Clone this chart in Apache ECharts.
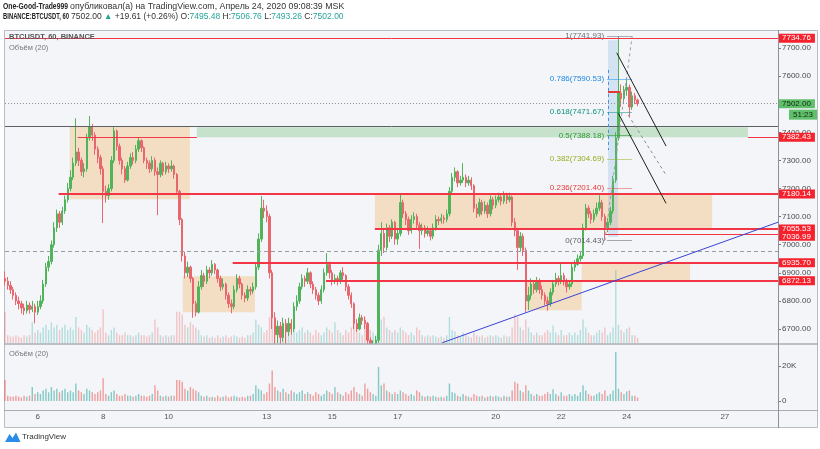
<!DOCTYPE html>
<html><head><meta charset="utf-8">
<script src="https://cdn.jsdelivr.net/npm/echarts@6/dist/echarts.min.js"></script>
<style>html,body{margin:0;padding:0;background:#fff;}#c{width:820px;height:449px;}</style>
</head><body><div id="c"></div>
<script>
// ---- time axis: hours relative to Apr 6 00:00 (MSK), 2-hour candles from Apr 5 00:00
const startHour = -24;
const stepHours = 2;
const firstOpen = 6880;
const closes = [
 6870,6855,6840,6820,6800,6790,6775,6765,6785,6770,6780,6760,
 6780,6800,6860,6920,6940,7000,7060,7110,7080,7120,7160,7200,
 7240,7290,7330,7300,7260,7270,7380,7420,7390,7340,7310,7270,
 7190,7175,7200,7300,7405,7350,7300,7270,7230,7280,7310,7300,
 7340,7370,7345,7300,7290,7270,7300,7260,7250,7290,7260,7280,
 7270,7280,7250,7190,7090,6960,6900,6920,6880,6790,6760,6850,
 6890,6870,6910,6900,6930,6910,6880,6850,6860,6820,6790,6780,
 6840,6880,6860,6820,6810,6840,6835,6850,6920,7020,7130,7120,
 7100,6900,6740,6680,6710,6670,6720,6690,6720,6700,6780,6800,
 6850,6880,6870,6900,6860,6840,6820,6800,6840,6900,6930,6900,
 6870,6880,6870,6900,6890,6850,6820,6790,6720,6700,6740,6730,
 6720,6660,6630,6640,6660,6980,7040,6990,7060,7030,7080,7020,
 7040,7150,7110,7090,7050,7090,7100,7070,7050,7060,7040,7050,
 7030,7060,7090,7085,7095,7090,7110,7190,7240,7260,7220,7230,
 7240,7220,7230,7210,7130,7110,7150,7120,7140,7110,7160,7140,
 7160,7170,7155,7175,7160,7170,7080,7050,6990,7030,6980,6800,
 6820,6860,6840,6870,6840,6820,6800,6790,6830,6860,6880,6870,
 6890,6870,6850,6860,6920,6930,6950,6960,7060,7130,7110,7090,
 7110,7130,7150,7100,7060,7080,7120,7230,7380,7540,7520,7550,
 7560,7490,7530,7515,7502
];
const highs = [
 6905,6885,6870,6850,6830,6815,6800,6790,6800,6795,6800,6790,
 6800,6820,6875,6935,6960,7015,7080,7125,7120,7135,7175,7220,
 7265,7310,7450,7345,7310,7290,7395,7458,7430,7400,7350,7320,
 7280,7210,7215,7315,7418,7410,7360,7310,7280,7295,7325,7330,
 7355,7380,7375,7350,7310,7300,7315,7310,7275,7300,7295,7295,
 7290,7300,7285,7255,7195,7095,6975,6940,6925,6885,6800,6870,
 6910,6900,6925,6920,6945,6935,6915,6890,6880,6865,6830,6805,
 6855,6895,6890,6865,6830,6855,6850,6865,6935,7040,7173,7160,
 7140,7110,6910,6760,6730,6725,6740,6735,6740,6735,6795,6820,
 6865,6895,6890,6917,6905,6870,6850,6830,6855,6915,6970,6940,
 6910,6895,6890,6910,6920,6895,6860,6830,6795,6735,6755,6750,
 6745,6725,6670,6660,6675,7000,7080,7060,7075,7070,7090,7085,
 7060,7184,7160,7120,7100,7105,7115,7110,7080,7075,7070,7065,
 7060,7075,7105,7100,7110,7105,7125,7205,7255,7275,7265,7245,
 7290,7250,7245,7240,7215,7145,7165,7160,7155,7150,7175,7170,
 7175,7185,7180,7190,7185,7185,7175,7095,7060,7045,7040,6990,
 6850,6880,6870,6885,6880,6855,6830,6815,6845,6875,6900,6890,
 6935,6900,6880,6875,6935,6945,6965,6975,7075,7145,7140,7120,
 7125,7150,7176,7160,7110,7095,7135,7245,7400,7742,7570,7565,
 7593,7570,7545,7540,7520
];
const lows = [
 6855,6840,6825,6805,6785,6770,6755,6750,6755,6755,6760,6720,
 6750,6770,6790,6850,6905,6930,6990,7045,7060,7070,7110,7150,
 7190,7230,7280,7280,7245,7240,7260,7370,7370,7320,7290,7250,
 7077,7150,7160,7190,7290,7335,7285,7250,7220,7225,7270,7285,
 7290,7330,7330,7290,7270,7255,7260,7245,7105,7240,7245,7250,
 7255,7260,7235,7180,7070,6940,6880,6885,6865,6740,6745,6755,
 6840,6850,6860,6880,6890,6895,6865,6835,6840,6805,6775,6756,
 6770,6830,6845,6805,6795,6800,6820,6825,6840,6910,7010,7095,
 7080,6880,6700,6600,6650,6640,6655,6620,6675,6680,6690,6765,
 6790,6840,6850,6860,6845,6825,6805,6785,6790,6830,6890,6880,
 6855,6860,6855,6860,6875,6835,6805,6775,6700,6690,6695,6715,
 6700,6640,6610,6615,6625,6650,6960,6970,6980,7010,7020,7000,
 7000,7030,7095,7070,7035,7040,7075,7055,6985,7035,7025,7030,
 7015,7020,7050,7070,7075,7075,7080,7100,7180,7225,7205,7210,
 7220,7205,7210,7195,7115,7095,7100,7105,7110,7095,7100,7125,
 7130,7150,7140,7145,7145,7150,7065,7030,6910,6975,6960,6760,
 6767,6805,6825,6830,6825,6805,6785,6765,6780,6820,6850,6855,
 6860,6855,6830,6840,6850,6905,6925,6940,6950,7050,7095,7075,
 7080,7100,7120,7085,7014,7045,7070,7110,7220,7370,7490,7500,
 7530,7455,7480,7500,7493
];
const volumesK = [
 12,3,2.5,2.5,3,2.5,2,3,2.5,3,8,4,
 5,4,6,7,5,8,6,7,5,6,7,5,
 6,5,10,6,5,4,7,6,5,4,5,6,
 13,4,3,5,6,4,3,3,4,3,3,2.5,
 3,4,3,3,2.5,3,4,9,6,3,2.5,3,
 2.5,3,3,12,12,11,7,6,8,7,6,5,
 3,2.5,3,2,2.5,2,3,2,2.5,3,2,2.5,
 3,2.5,2,2.5,2,3,3,4,9,7,6,4,
 5,10,17.5,8,6,5,7,5,4,6,5,4,
 5,6,4,5,4,3,5,4,3,4,6,5,
 4,8,5,4,3,5,4,6,8,5,4,3,
 10,7,5,4,3,19.5,9,10,6,5,4,5,
 4,6,5,4,3,4,3,6,5,3,2.5,3,
 2.5,3,2.5,2,2.5,2,3,10,5,4.5,3,2.5,
 4,3,2.5,2,4,3,2.5,3,2,2.5,3,2.5,
 3,2.5,2,3,2.5,2.5,6,11,10,6,5,9,
 6,4,3,4,3,3,4,5,4,6.7,4,3,
 5,3,3,4,3,4,3,5,9,6,4,3,
 3,4,5,4,6,3,4,6,28,7,5,4,
 5.5,6,3,3,2
];
const dayTickLabels = [6,8,10,13,15,17,20,22,24,27];
const priceTicks = [6700,6800,6900,7000,7100,7200,7300,7400,7500,7600,7700];
const volumeTicksK = [0,20];

// drawing anchors (hour, price)
const fullLevels = { top: 7734.76, last: 7502.00, gray: 7420, dashed: 6977 };
const partialLevels = [ // [fromHour, price, label]
 [15.4, 7180.14, '7180.14'], [416, 7036.99, '7036.99'], [247.3, 7055.53, '7055.53'],
 [143, 6935.70, '6935.70'], [211.4, 6872.13, '6872.13'], [521, 7382.43, '7382.43']
];
const orangeBoxes = [ // [h1, h2, p1, p2]
 [23.5, 111.6, 7422, 7162], [106.4, 159.3, 6888, 6760], [247.3, 494.7, 7180.14, 7055.53],
 [399, 478.5, 6935.70, 6872.13], [357.4, 399, 6872.13, 6767]
];
const greenBox = [116.7, 521, 7418, 7382.43];
const blueBand = [418.3, 425.7, 7728, 7027];
const fibLevels = [ // [ratio, price, text colour, line colour]
 ['1', 7741.93, '#6f727c', 'rgba(120,123,134,0.6)'], ['0.786', 7590.53, '#1e88e5', 'rgba(33,150,243,0.55)'],
 ['0.618', 7471.67, '#10907f', 'rgba(20,153,138,0.55)'], ['0.5', 7388.18, '#2e9a35', 'rgba(62,160,67,0.65)'],
 ['0.382', 7304.69, '#93b021', 'rgba(156,184,50,0.55)'], ['0.236', 7201.40, '#e53935', 'rgba(236,74,74,0.5)'],
 ['0', 7014.43, '#5f626b', 'rgba(111,114,124,0.6)']
];
const fibSpan = [417.6, 436];
const trendLine = [[296.7, 6651], [543, 7080]];
const channelA = [[424.7, 7683], [460.9, 7351]];
const channelB = [[425.9, 7467.5], [460.9, 7147]];
const channelMid = [[433.2, 7461], [460.9, 7248]];
const fibDiagonal = [[416, 7014.43], [436, 7741.93]];
const redSegment = [[29.4, 7382.43], [116.7, 7382.43]];
const shortRed = [[418.3, 7543], [427.1, 7543]];
const blueDash = [[418.3, 7622], [418.3, 7337]];
const countdownText = '51:23';

const X_MIN = -24, X_MAX = 543;
const P_MIN = 6650.2, P_MAX = 7764.1;
const FONT = 'Liberation Sans, Arial, sans-serif';
const UP = '#52b45a', DOWN = '#e8666e';
const BG = '#f3f5f9';

const candles = [], volMain = [], volPane = [];
for (let i = 0; i < closes.length; i++) {
  const h = startHour + i * stepHours;
  const o = i === 0 ? firstOpen : closes[i - 1];
  const c = closes[i];
  candles.push([h, o, c, lows[i], highs[i]]);
  const isUp = c >= o;
  volMain.push({ value: [h, volumesK[i]], itemStyle: { color: isUp ? 'rgba(38,166,154,0.30)' : 'rgba(239,83,80,0.30)' } });
  volPane.push({ value: [h, volumesK[i]], itemStyle: { color: isUp ? 'rgba(38,166,154,0.55)' : 'rgba(239,83,80,0.55)' } });
}

function endLabel(txt, bg, fg, nudge) {
  return { show: true, position: 'end', formatter: txt, color: fg || '#fff', backgroundColor: bg,
    padding: [1, 4, 0, 3], lineHeight: 8, fontSize: 8, distance: 1, fontFamily: FONT, offset: [0, nudge || 0] };
}
const NOLABEL = { show: false };
const solid = (color, width) => ({ color, width, type: 'solid', opacity: 1 });

const lines = [];
lines.push({ yAxis: fullLevels.top, lineStyle: solid('#f23645', 1), label: endLabel('7734.76', '#f5222d') });
lines.push({ yAxis: fullLevels.gray, lineStyle: solid('#5d6066', 1), label: NOLABEL });
lines.push({ yAxis: fullLevels.dashed, lineStyle: { color: '#9a9ca3', width: 1, type: [4, 3] }, label: NOLABEL });
lines.push({ yAxis: fullLevels.last, lineStyle: { color: '#8f9399', width: 1, type: [1, 2] }, label: endLabel('7502.00', '#5fbf6a', '#102a10') });
partialLevels.forEach(([h, p, txt]) => {
  const w = (txt === '7036.99' || txt === '7382.43') ? 1 : 2;
  const nudge = txt === '7036.99' ? 2 : 0;
  lines.push([{ coord: [h, p], lineStyle: solid('#f23645', w), label: endLabel(txt, '#f5222d', '#fff', nudge) }, { coord: [X_MAX, p] }]);
});
lines.push([{ coord: redSegment[0], lineStyle: solid('#f23645', 1), label: NOLABEL }, { coord: redSegment[1] }]);
lines.push([{ coord: shortRed[0], lineStyle: solid('#e53935', 2), label: NOLABEL }, { coord: shortRed[1] }]);
lines.push([{ coord: blueDash[0], lineStyle: { color: '#4a90e2', width: 1, type: [3, 3] }, label: NOLABEL }, { coord: blueDash[1] }]);
fibLevels.forEach(([r, p, tcol, lcol]) => {
  lines.push([{ coord: [fibSpan[0], p], lineStyle: { color: lcol, width: 1, type: 'solid' },
    label: { show: true, position: 'start', formatter: r + '(' + p.toFixed(2) + ')', color: tcol, fontSize: 8, distance: 3, fontFamily: FONT } },
    { coord: [fibSpan[1], p] }]);
});
lines.push([{ coord: fibDiagonal[0], lineStyle: { color: '#9a9ca3', width: 1, type: [3, 3] }, label: NOLABEL }, { coord: fibDiagonal[1] }]);
lines.push([{ coord: trendLine[0], lineStyle: solid('#3a44d8', 1), label: NOLABEL }, { coord: trendLine[1] }]);
lines.push([{ coord: channelA[0], lineStyle: solid('#1f1f1f', 1), label: NOLABEL }, { coord: channelA[1] }]);
lines.push([{ coord: channelB[0], lineStyle: solid('#1f1f1f', 1), label: NOLABEL }, { coord: channelB[1] }]);
lines.push([{ coord: channelMid[0], lineStyle: { color: '#8a8d94', width: 1, type: [3, 3] }, label: NOLABEL }, { coord: channelMid[1] }]);

const areas = orangeBoxes.map(([h1, h2, p1, p2]) => [
  { coord: [h1, p1], itemStyle: { color: 'rgba(245,170,70,0.30)' } }, { coord: [h2, p2] }]);
areas.push([{ coord: [greenBox[0], greenBox[2]], itemStyle: { color: 'rgba(102,187,106,0.32)' } }, { coord: [greenBox[1], greenBox[3]] }]);
areas.push([{ coord: [blueBand[0], blueBand[2]], itemStyle: { color: 'rgba(120,175,225,0.25)' } }, { coord: [blueBand[1], blueBand[3]] }]);

// header text pieces; bold author/symbol parts are slightly condensed like the original
const headerBold1 = 'One-Good-Trade999', headerRest1 = 'опубликовал(а) на TradingView.com, Апрель 24, 2020 09:08:39 MSK';
const headerBold2 = 'BINANCE:BTCUSDT, 60';
const headerRest2 = '7502.00 {g|▲} +19.61 (+0.26%) O:{g|7495.48} H:{g|7506.76} L:{g|7493.26} C:{g|7502.00}';
const measureCtx = document.createElement('canvas').getContext('2d');
function textWidth(t, font) { measureCtx.font = font; return measureCtx.measureText(t).width; }
const BOLD_FONT = 'bold 8.5px ' + FONT;
const sx1 = 65 / textWidth(headerBold1, BOLD_FONT);
const sx2 = 66 / textWidth(headerBold2, BOLD_FONT);

const chart = echarts.init(document.getElementById('c'), null, { renderer: 'canvas', width: 820, height: 449 });
const noZeroLine = { show: false, onZero: false };
const option = {
  animation: false,
  backgroundColor: '#ffffff',
  grid: [
    { left: 5, right: 42, top: 30, height: 313 },
    { left: 5, right: 42, top: 200, height: 143 },
    { left: 5, right: 42, top: 345, height: 56 }
  ],
  xAxis: [
    { type: 'value', gridIndex: 0, min: X_MIN, max: X_MAX, show: false },
    { type: 'value', gridIndex: 1, min: X_MIN, max: X_MAX, show: false },
    { type: 'value', gridIndex: 2, min: X_MIN, max: X_MAX, axisLine: noZeroLine, axisTick: { show: false }, splitLine: { show: false },
      axisLabel: { customValues: dayTickLabels.map(d => (d - 6) * 24), formatter: v => String(Math.round(v / 24) + 6),
        color: '#555', fontSize: 8, margin: 12, fontFamily: FONT } }
  ],
  yAxis: [
    { type: 'value', gridIndex: 0, position: 'right', min: P_MIN, max: P_MAX, splitLine: { show: false }, axisLine: noZeroLine,
      axisTick: { show: true, length: 3, customValues: priceTicks, lineStyle: { color: '#777' } },
      axisLabel: { customValues: priceTicks, formatter: v => v.toFixed(2), margin: 4, fontSize: 8, color: '#4a4a4a', fontFamily: FONT } },
    { type: 'value', gridIndex: 1, min: 0, max: 55, show: false },
    { type: 'value', gridIndex: 2, position: 'right', min: 0, max: 32, splitLine: { show: false }, axisLine: noZeroLine,
      axisTick: { show: true, length: 3, customValues: volumeTicksK, lineStyle: { color: '#777' } },
      axisLabel: { customValues: volumeTicksK, formatter: v => v === 0 ? '0' : v + 'K', margin: 4, fontSize: 8, color: '#4a4a4a', fontFamily: FONT } }
  ],
  series: [
    { type: 'line', xAxisIndex: 0, yAxisIndex: 0, data: [[X_MIN, 7000]], symbol: 'none', lineStyle: { opacity: 0 }, z: 1, silent: true,
      markArea: { silent: true, data: areas } },
    { type: 'bar', xAxisIndex: 1, yAxisIndex: 1, data: volMain, barWidth: 1.4, z: 1, silent: true },
    { type: 'candlestick', xAxisIndex: 0, yAxisIndex: 0, data: candles, barWidth: 1.9, z: 3, clip: true, silent: true,
      itemStyle: { color: UP, color0: DOWN, borderColor: UP, borderColor0: DOWN, borderWidth: 1 } },
    { type: 'line', xAxisIndex: 0, yAxisIndex: 0, data: [[X_MIN, 7000]], symbol: 'none', lineStyle: { opacity: 0 }, z: 5, clip: false, silent: true,
      markLine: { silent: true, symbol: ['none', 'none'], animation: false, emphasis: { disabled: true }, data: lines } },
    { type: 'bar', xAxisIndex: 2, yAxisIndex: 2, data: volPane, barWidth: 1.4, z: 7, silent: true }
  ],
  graphic: [
    { id: 'bg', type: 'rect', z: -100, silent: true, shape: { x: 4.5, y: 30.5, width: 813, height: 397 }, style: { fill: BG, stroke: '#b8bcc4', lineWidth: 1 } },
    // cover for candle parts below the price pane (volume pane background)
    { id: 'cover', type: 'rect', z: 6, silent: true, shape: { x: 5, y: 344, width: 773, height: 66 }, style: { fill: BG } },
    { id: 'sep1', type: 'line', z: 10, silent: true, shape: { x1: 4, y1: 344, x2: 818, y2: 344 }, style: { stroke: '#a9adb5', lineWidth: 1.5 } },
    { id: 'sep2', type: 'line', z: 10, silent: true, shape: { x1: 4, y1: 410.5, x2: 818, y2: 410.5 }, style: { stroke: '#a9adb5', lineWidth: 1 } },
    { id: 'axisv', type: 'line', z: 10, silent: true, shape: { x1: 778.5, y1: 30, x2: 778.5, y2: 428 }, style: { stroke: '#8c9099', lineWidth: 1 } },
    { id: 'hb1', type: 'text', z: 10, silent: true, x: 3, y: 2, scaleX: sx1, style: { text: headerBold1, font: BOLD_FONT, fill: '#222' } },
    { id: 'hr1', type: 'text', z: 10, silent: true, x: 70, y: 2, style: { text: headerRest1, font: '8.8px ' + FONT, fill: '#333' } },
    { id: 'hb2', type: 'text', z: 10, silent: true, x: 3, y: 12, scaleX: sx2, style: { text: headerBold2, font: BOLD_FONT, fill: '#222' } },
    { id: 'hr2', type: 'text', z: 10, silent: true, x: 71, y: 12, style: { text: headerRest2, font: '8.5px ' + FONT, fill: '#333',
      rich: { g: { fill: '#26a69a', fontSize: 8.5, fontFamily: FONT } } } },
    { id: 't1', type: 'text', z: 10, silent: true, x: 9, y: 33, style: { text: 'BTCUSDT, 60, BINANCE', font: 'bold 7.5px ' + FONT, fill: '#555' } },
    { id: 't2', type: 'text', z: 10, silent: true, x: 9, y: 44, style: { text: 'Объём (20)', font: '7.5px ' + FONT, fill: '#777' } },
    { id: 't3', type: 'text', z: 10, silent: true, x: 9, y: 350, style: { text: 'Объём (20)', font: '7.5px ' + FONT, fill: '#777' } },
    { id: 'logo', type: 'polygon', z: 10, silent: true, shape: { points: [[5, 442], [9.5, 434], [12.5, 438], [16, 432.5], [20.5, 442]] }, style: { fill: '#2b8de8' } },
    { id: 'logot', type: 'text', z: 10, silent: true, x: 22, y: 433, style: { text: 'TradingView', font: '8px ' + FONT, fill: '#333' } }
  ]
};
chart.setOption(option);
// countdown badge under the last-price label, placed through the price scale
const yLast = chart.convertToPixel({ yAxisIndex: 0 }, fullLevels.last);
chart.setOption({ graphic: [
  { id: 'cdbg', type: 'rect', z: 12, silent: true, shape: { x: 789, y: yLast + 6, width: 28, height: 10 }, style: { fill: '#5fbf6a' } },
  { id: 'cdtx', type: 'text', z: 13, silent: true, x: 813, y: yLast + 11.5, style: { text: countdownText, font: '8px ' + FONT, fill: '#102a10', align: 'right', verticalAlign: 'middle' } }
] });
</script>
</body></html>
